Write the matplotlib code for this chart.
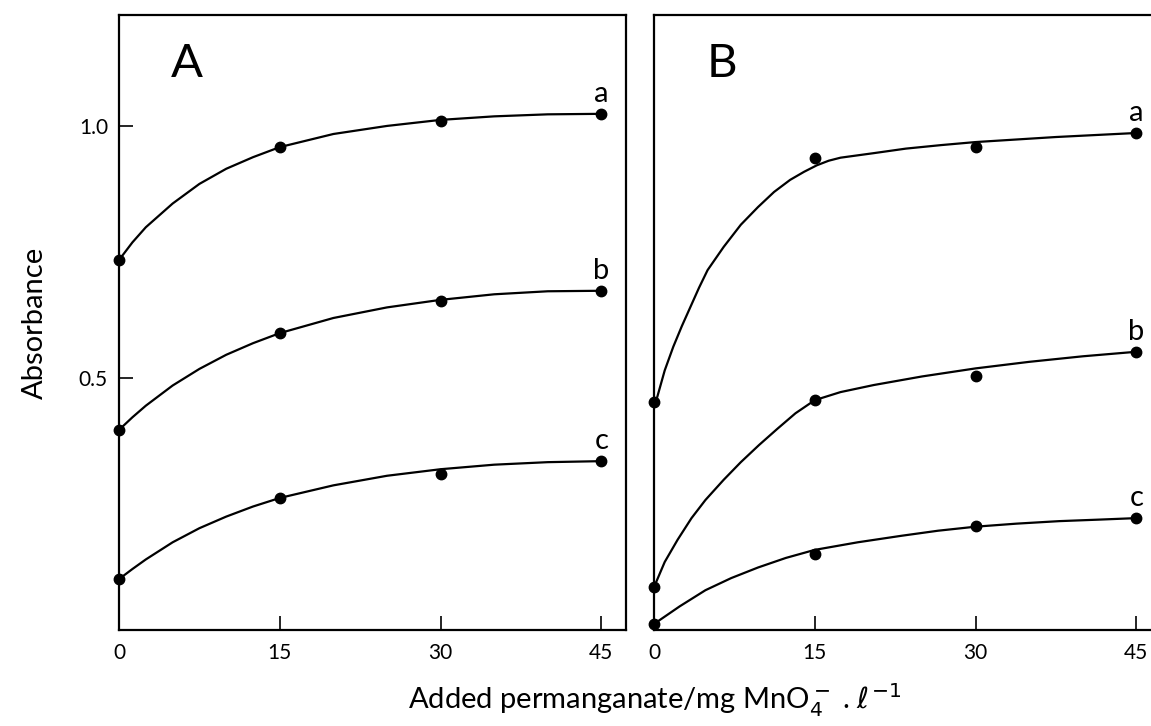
import numpy as np
import matplotlib.pyplot as plt

plt.rcParams['font.family'] = ['Lato', 'DejaVu Sans']
plt.rcParams['mathtext.fontset'] = 'dejavusans'

# measured points (x = added permanganate, y = absorbance)
dose = [0, 15, 30, 45]

A_a = [0.734, 0.958, 1.010, 1.024]
A_b = [0.397, 0.589, 0.653, 0.673]
A_c = [0.101, 0.262, 0.309, 0.335]

B_a = [0.452, 0.937, 0.958, 0.986]
B_b = [0.085, 0.456, 0.504, 0.552]
B_c = [0.012, 0.151, 0.206, 0.222]

# hand-drawn fitted curves
curve_x_A = [0, 1.25, 2.5, 5, 7.5, 10, 12.5, 15, 20, 25, 30, 35, 40, 45]
curve_A_a = [0.734, 0.769, 0.799, 0.846, 0.885, 0.915, 0.938, 0.958, 0.984, 1.000, 1.012, 1.019, 1.023, 1.024]
curve_A_b = [0.397, 0.422, 0.445, 0.485, 0.518, 0.546, 0.569, 0.589, 0.619, 0.640, 0.655, 0.666, 0.672, 0.673]
curve_A_c = [0.101, 0.121, 0.140, 0.174, 0.202, 0.225, 0.245, 0.262, 0.287, 0.306, 0.319, 0.328, 0.333, 0.335]

curve_x_Ba = [0, 0.3, 1.0, 1.8, 2.6, 3.4, 4.2, 5.0, 6.5, 8.1, 9.7, 11.2, 12.7, 14.0, 15.2, 16.3,
              17.4, 20.5, 23.5, 26.8, 30, 37.5, 45]
curve_B_a = [0.452, 0.462, 0.515, 0.562, 0.603, 0.641, 0.679, 0.714, 0.760, 0.804, 0.839, 0.869,
             0.893, 0.909, 0.922, 0.931, 0.937, 0.946, 0.955, 0.962, 0.968, 0.978, 0.986]
curve_x_Bb = [0, 1.0, 2.2, 3.5, 4.8, 6.5, 8.1, 9.8, 11.5, 13.2, 15, 17.4, 20.5, 25, 30, 35, 40, 45]
curve_B_b = [0.085, 0.135, 0.179, 0.222, 0.258, 0.298, 0.333, 0.367, 0.399, 0.430, 0.456, 0.472,
             0.486, 0.503, 0.519, 0.532, 0.543, 0.552]
curve_x_Bc = [0, 2.4, 4.8, 7.2, 9.7, 12.3, 15, 19, 23.1, 26.5, 30, 33.8, 37.8, 41.5, 45]
curve_B_c = [0.012, 0.047, 0.079, 0.103, 0.124, 0.143, 0.159, 0.174, 0.187, 0.197, 0.205, 0.211,
             0.216, 0.219, 0.222]

fig = plt.figure(figsize=(11.51, 7.26), dpi=100)
axA = fig.add_axes([0.1034, 0.1322, 0.4405, 0.8471])
axB = fig.add_axes([0.5682, 0.1322, 0.4405, 0.8471])

panels = [
    (axA, 'A', [curve_A_a, curve_A_b, curve_A_c], [curve_x_A] * 3, [A_a, A_b, A_c]),
    (axB, 'B', [curve_B_a, curve_B_b, curve_B_c], [curve_x_Ba, curve_x_Bb, curve_x_Bc], [B_a, B_b, B_c]),
]

for ax, name, curves, cxs, pts in panels:
    for cx, cy, py, lab in zip(cxs, curves, pts, ['a', 'b', 'c']):
        ax.plot(cx, cy, color='black', lw=1.6, solid_capstyle='round', solid_joinstyle='round',
                clip_on=False)
        ax.plot(dose, py, 'o', color='black', ms=7.5, clip_on=False, zorder=5)
        ax.text(dose[-1], py[-1] + 0.024, lab, fontsize=21, ha='center', va='baseline')
    ax.text(0.134, 0.955, name, transform=ax.transAxes, fontsize=34, ha='center', va='top')
    ax.set_xlim(0, 47.3)
    ax.set_ylim(0, 1.22)
    ax.set_xticks([0, 15, 30, 45])
    ax.tick_params(axis='x', direction='in', length=10, width=1.2, labelsize=15, pad=9)
    for s in ax.spines.values():
        s.set_linewidth(1.6)

axA.set_yticks([0.5, 1.0])
axA.set_yticklabels(['0.5', '1.0'])
axA.tick_params(axis='y', direction='in', length=10, width=1.2, labelsize=15, pad=8)
axB.set_yticks([])
axB.spines['right'].set_visible(False)

axA.set_ylabel('Absorbance', fontsize=21, labelpad=22)
fig.text(0.569, 0.036, r'Added permanganate/mg MnO$_4^-$ . $\ell^{-1}$', fontsize=21,
         ha='center', va='center')

fig.savefig('out.png', dpi=100)
